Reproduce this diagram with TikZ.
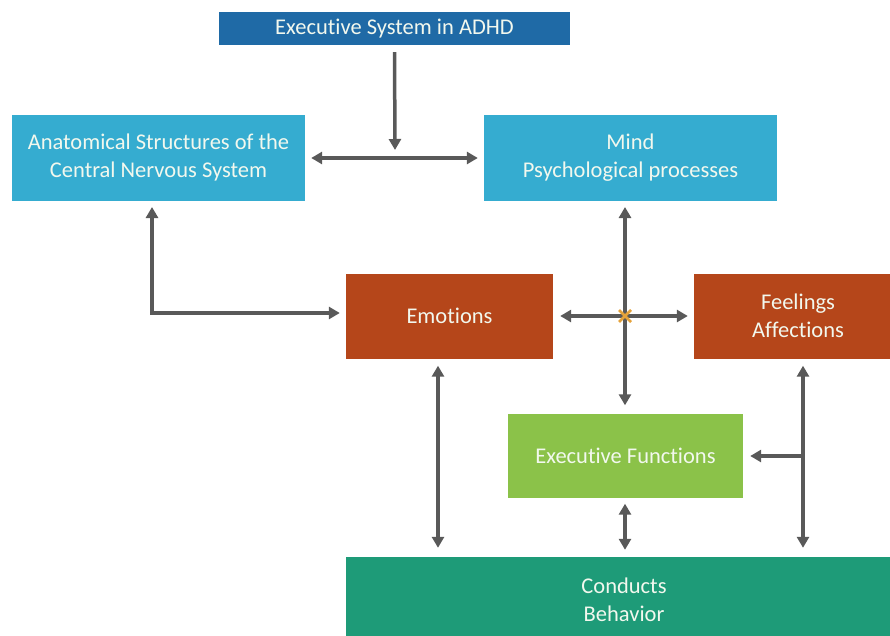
\documentclass[tikz,border=0pt]{standalone}
\usepackage{fontspec}
\setmainfont{Carlito}[Ligatures=CommonOff]
\usetikzlibrary{arrows.meta,calc}
\definecolor{topblue}{HTML}{1F6AA6}
\definecolor{lightblue}{HTML}{35ACD0}
\definecolor{rust}{HTML}{B5461A}
\definecolor{lgreen}{HTML}{8BC249}
\definecolor{teal}{HTML}{1E9B78}
\definecolor{arrgray}{HTML}{595959}
\definecolor{xorange}{HTML}{E5A23A}
\definecolor{txt}{HTML}{F2F8EE}
\tikzset{
  box/.style={rectangle, inner sep=0pt, align=center, text=txt, font=\fontsize{22.5}{28}\selectfont},
  arr/.style={draw=arrgray, line width=3.5pt, -{Triangle[length=11pt,width=12pt]}},
  darr/.style={draw=arrgray, line width=3.5pt, {Triangle[length=11pt,width=12pt]}-{Triangle[length=11pt,width=12pt]}},
}
\begin{document}
\begin{tikzpicture}[x=1pt,y=-1pt]
\useasboundingbox (0,0) rectangle (890,636);
\begin{scope}
\clip (0,0) rectangle (890,636);
\node[box, fill=topblue, minimum width=351pt, minimum height=33pt] (top) at (394.5,28.5) {Executive System in ADHD};
\node[box, fill=lightblue, minimum width=293pt, minimum height=86pt] (anat) at (158.5,158) {Anatomical Structures of the\\Central Nervous System};
\node[box, fill=lightblue, minimum width=293pt, minimum height=86pt] (mind) at (630.5,158) {Mind\\Psychological processes};
\node[box, fill=rust, minimum width=207pt, minimum height=85pt] (emo) at (449.5,316) {Emotions};
\node[box, fill=rust, minimum width=208pt, minimum height=85pt] (feel) at (798,316) {Feelings\\Affections};
\node[box, fill=lgreen, minimum width=235pt, minimum height=84pt] (ef) at (625.5,455.5) {Executive Functions};
\node[box, fill=teal, minimum width=556pt, minimum height=86pt] (cond) at (624,600) {Conducts\\Behavior};
\end{scope}
% junction coordinates
\coordinate (j1) at (395,150);
\coordinate (aup) at (152,207);
\coordinate (acorner) at (152,313);
\coordinate (mtop) at (625,207);
\coordinate (cross) at (625,316);
\coordinate (fbr) at (803,456);
% arrows
\draw[arr] ([yshift=-7pt]top.south) -- (j1);
\draw[darr] ([xshift=6pt]anat.east) -- ([xshift=-6pt]mind.west);
\draw[darr] (aup) -- (acorner) -- ([xshift=-6pt]emo.west |- acorner);
\draw[darr] (mtop) -- ([yshift=8pt]ef.north -| mtop);
\draw[darr] ([xshift=7pt]emo.east |- cross) -- ([xshift=-6pt]feel.west |- cross);
\draw[darr] ([yshift=-7pt]emo.south -| 438,0) -- ([yshift=9pt]cond.north -| 438,0);
\draw[darr] ([yshift=-6pt]ef.south -| mtop) -- ([yshift=7pt]cond.north -| mtop);
\draw[darr] ([yshift=-7pt]feel.south -| fbr) -- ([yshift=9pt]cond.north -| fbr);
\draw[arr] (fbr) -- ([xshift=7pt]ef.east |- fbr);
\draw[xorange, line width=2.5pt] ($(cross)+(-6,-6)$) -- ($(cross)+(6,6)$)
      ($(cross)+(-6,6)$) -- ($(cross)+(6,-6)$);
\end{tikzpicture}
\end{document}
